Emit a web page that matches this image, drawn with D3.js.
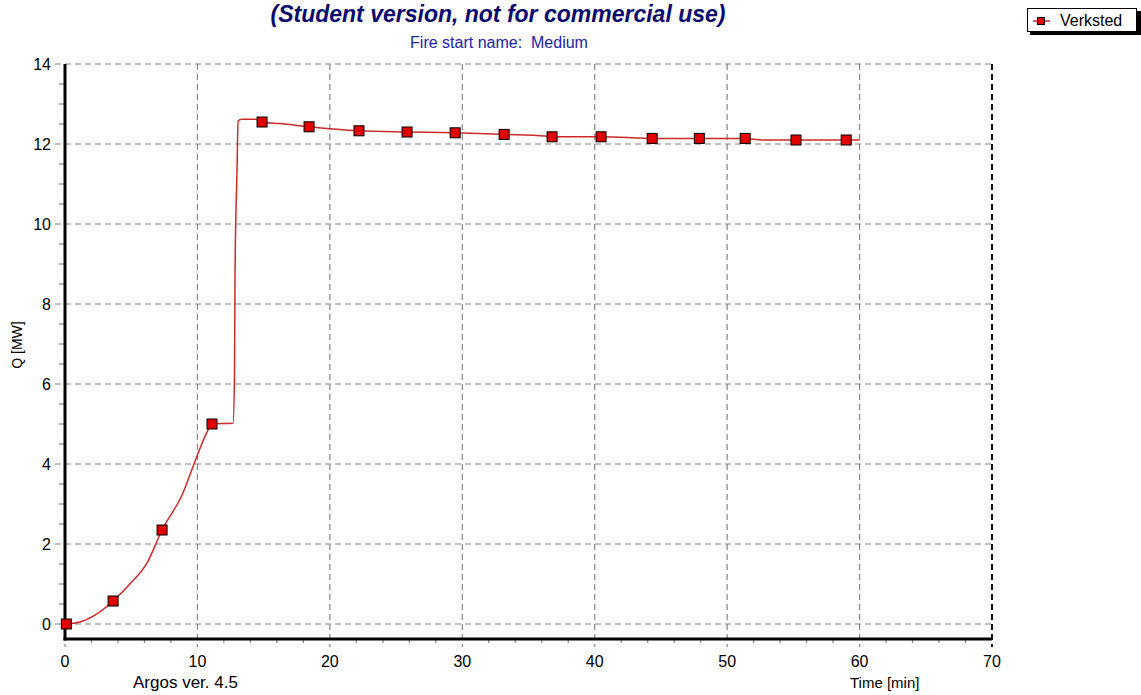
<!DOCTYPE html>
<html>
<head>
<meta charset="utf-8">
<script src="https://cdn.jsdelivr.net/npm/d3@7"></script>
<style>
  html, body { margin: 0; padding: 0; background: #ffffff; }
  svg { display: block; font-family: "Liberation Sans", Arial, sans-serif; }
</style>
</head>
<body>
<svg id="chart" width="1141" height="695"></svg>
<script>
// ---- data ----
const titleText = "(Student version, not for commercial use)";
const subtitleText = "Fire start name:  Medium";
const seriesName = "Verksted";
const xLabel = "Time [min]";
const yLabel = "Q [MW]";
const footerText = "Argos ver. 4.5";

const xTicks = [0, 10, 20, 30, 40, 50, 60, 70];
const yTicks = [0, 2, 4, 6, 8, 10, 12, 14];

// curve of heat release (time [min], Q [MW])
const lineTime = [0, 1.13, 2.27, 3.63, 4.9, 6.2, 7.33, 8.9, 9.8, 10.7, 11.1, 12.69, 12.8, 12.84, 12.99, 13.07, 13.37, 14.35, 14.88, 16.24, 18.43, 22.2, 25.83, 29.46, 33.16, 36.25, 36.78, 40.48, 43.43, 44.34, 47.9, 51.36, 52.64, 55.2, 58.99, 60];
const lineQ    = [0, 0.05, 0.22, 0.575, 1.0, 1.53, 2.35, 3.27, 4.05, 4.78, 5.0, 5.02, 6.27, 8.77, 11.35, 12.58, 12.62, 12.62, 12.55, 12.51, 12.43, 12.33, 12.3, 12.28, 12.24, 12.2, 12.18, 12.18, 12.15, 12.14, 12.14, 12.14, 12.1, 12.1, 12.1, 12.1];

// plotted markers
const markerTime = [0.1, 3.63, 7.33, 11.1, 14.88, 18.43, 22.2, 25.83, 29.46, 33.16, 36.78, 40.48, 44.34, 47.9, 51.36, 55.2, 58.99];
const markerQ    = [0, 0.575, 2.35, 5.0, 12.55, 12.43, 12.33, 12.3, 12.28, 12.24, 12.18, 12.18, 12.14, 12.14, 12.14, 12.1, 12.1];

// ---- layout ----
const svg = d3.select("#chart");
const x = d3.scaleLinear().domain([0, 70]).range([65, 992]);
const y = d3.scaleLinear().domain([0, 14]).range([624, 64]);
const axisY = 639; // x axis line sits below Q=0

const gridColor = "#858585";

// grid lines (vertical)
svg.append("g").selectAll("line").data(xTicks.slice(0, -1)).join("line")
  .attr("x1", d => x(d)).attr("x2", d => x(d))
  .attr("y1", y(14)).attr("y2", axisY + 8)
  .attr("stroke", gridColor).attr("stroke-width", 1.2).attr("stroke-dasharray", "6,4");
// right border (70) darker dashed
svg.append("line")
  .attr("x1", x(70)).attr("x2", x(70)).attr("y1", y(14)).attr("y2", axisY + 8)
  .attr("stroke", "#111").attr("stroke-width", 2).attr("stroke-dasharray", "6,4");
// grid lines (horizontal)
svg.append("g").selectAll("line").data(yTicks).join("line")
  .attr("x1", x(0) - 10).attr("x2", x(70))
  .attr("y1", d => y(d)).attr("y2", d => y(d))
  .attr("stroke", gridColor).attr("stroke-width", 1.2).attr("stroke-dasharray", "6,4");

// minor ticks
const yMinor = d3.range(0, 14.001, 0.5).filter(v => Math.abs(v % 2) > 1e-6);
svg.append("g").selectAll("line").data(yMinor).join("line")
  .attr("x1", x(0) - 6).attr("x2", x(0))
  .attr("y1", d => y(d)).attr("y2", d => y(d))
  .attr("stroke", gridColor).attr("stroke-width", 1.2);
const xMinor = d3.range(0, 70.001, 2).filter(v => v % 10 !== 0);
svg.append("g").selectAll("line").data(xMinor).join("line")
  .attr("x1", d => x(d)).attr("x2", d => x(d))
  .attr("y1", axisY).attr("y2", axisY + 4)
  .attr("stroke", gridColor).attr("stroke-width", 1.2);

// axis lines
svg.append("line").attr("x1", x(0)).attr("x2", x(0)).attr("y1", y(14)).attr("y2", axisY + 1.5)
  .attr("stroke", "#000").attr("stroke-width", 3);
svg.append("line").attr("x1", x(0) - 1.5).attr("x2", x(70)).attr("y1", axisY).attr("y2", axisY)
  .attr("stroke", "#000").attr("stroke-width", 3);

// tick labels
svg.append("g").selectAll("text").data(yTicks).join("text")
  .attr("x", 51).attr("y", d => y(d) + 5.5)
  .attr("text-anchor", "end").attr("font-size", 16).attr("fill", "#000")
  .text(d => d);
svg.append("g").selectAll("text").data(xTicks).join("text")
  .attr("x", d => x(d)).attr("y", 667)
  .attr("text-anchor", "middle").attr("font-size", 16).attr("fill", "#000")
  .text(d => d);

// axis titles / footer
svg.append("text").attr("transform", "translate(22,345) rotate(-90)")
  .attr("text-anchor", "middle").attr("font-size", 14).attr("fill", "#000").text(yLabel);
svg.append("text").attr("x", 850).attr("y", 688).attr("font-size", 15).attr("fill", "#000").text(xLabel);
svg.append("text").attr("x", 133).attr("y", 688).attr("font-size", 17).attr("fill", "#000").text(footerText);

// title + subtitle
svg.append("text").attr("x", 498).attr("y", 22).attr("text-anchor", "middle")
  .attr("font-size", 23).attr("font-weight", "bold").attr("font-style", "italic")
  .attr("fill", "#0a0a6e").text(titleText);
svg.append("text").attr("x", 499).attr("y", 48).attr("text-anchor", "middle")
  .attr("font-size", 16).attr("fill", "#2222a6").style("white-space", "pre").text(subtitleText);

// series line
const pts = lineTime.map((t, i) => [t, lineQ[i]]);
svg.append("path").datum(pts)
  .attr("fill", "none").attr("stroke", "#cc2a2a").attr("stroke-width", 1.5)
  .attr("d", d3.line().curve(d3.curveMonotoneX).x(d => x(d[0])).y(d => y(d[1])));

// markers
const mk = markerTime.map((t, i) => [t, markerQ[i]]);
svg.append("g").selectAll("rect").data(mk).join("rect")
  .attr("x", d => x(d[0]) - 5).attr("y", d => y(d[1]) - 5)
  .attr("width", 10).attr("height", 10)
  .attr("fill", "#e00000").attr("stroke", "#000").attr("stroke-width", 1);

// legend
const lg = svg.append("g");
lg.append("rect").attr("x", 1030).attr("y", 11).attr("width", 111).attr("height", 24).attr("fill", "#000");
lg.append("rect").attr("x", 1027.5).attr("y", 8.5).attr("width", 109).attr("height", 23)
  .attr("fill", "#fff").attr("stroke", "#000").attr("stroke-width", 1);
lg.append("line").attr("x1", 1033).attr("x2", 1050).attr("y1", 21).attr("y2", 21)
  .attr("stroke", "#cc2a2a").attr("stroke-width", 1.5);
lg.append("rect").attr("x", 1037.5).attr("y", 17.5).attr("width", 7).attr("height", 7)
  .attr("fill", "#e00000").attr("stroke", "#000").attr("stroke-width", 1);
lg.append("text").attr("x", 1060).attr("y", 26).attr("font-size", 16).attr("fill", "#000").text(seriesName);
</script>
</body>
</html>
